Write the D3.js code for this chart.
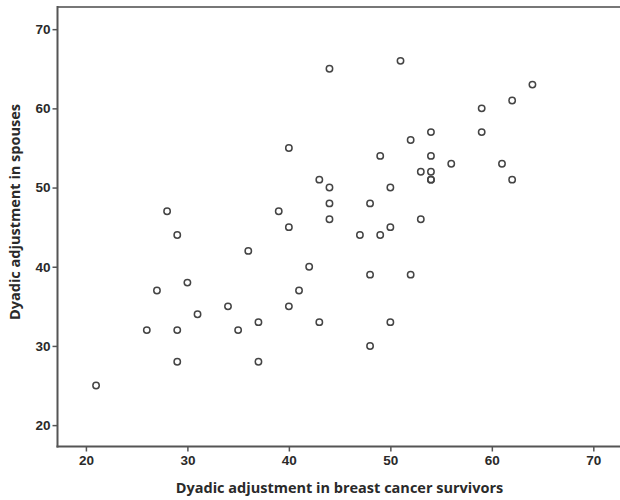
<!DOCTYPE html>
<html>
<head>
<meta charset="utf-8">
<script src="https://cdn.jsdelivr.net/npm/d3@7"></script>
<style>
  html, body { margin: 0; padding: 0; background: #fff; }
  svg { display: block; }
  .tick text { font-family: "Liberation Sans", Arial, sans-serif; font-weight: bold; fill: #2a2a2a; }
  .title { font-family: "Open Sans", "Noto Sans", sans-serif; font-weight: bold; fill: #2a2a2a; }
</style>
</head>
<body>
<svg id="chart" width="620" height="500"></svg>
<script>
const survivors = [28,29,36,40,43,39,40,44,51,64,62,59,59,54,52,54,49,56,61,53,54,54,54,62,44,50,44,48,44,53,47,49,50,42,41,40,43,37,37,35,34,31,30,27,26,29,29,21,48,52,50,48];
const spouses   = [47,44,42,55,51,47,45,65,66,63,61,60,57,57,56,54,54,53,53,52,52,51,51,51,50,50,48,48,46,46,44,44,45,40,37,35,33,33,28,32,35,34,38,37,32,32,28,25,39,39,33,30];
const xTicks = [20, 30, 40, 50, 60, 70];
const yTicks = [20, 30, 40, 50, 60, 70];
const xTitle = "Dyadic adjustment in breast cancer survivors";
const yTitle = "Dyadic adjustment in spouses";

(function () {
const svg = d3.select("#chart");
const mLeft = 57.5, mTop = 7, mBottom = 446.5, mRight = 640;

const x = d3.scaleLinear().domain([17.2, 74.6]).range([mLeft, mRight]);
const y = d3.scaleLinear().domain([17.3, 72.8]).range([mBottom, mTop]);

// frame (top border; right side is outside the picture)
svg.append("line")
  .attr("x1", mLeft).attr("x2", mRight).attr("y1", mTop).attr("y2", mTop)
  .attr("stroke", "#777").attr("stroke-width", 2);

const xAxis = svg.append("g")
  .attr("transform", `translate(0,${mBottom})`)
  .call(d3.axisBottom(x).tickValues(xTicks).tickSize(5).tickPadding(4).tickSizeOuter(0));
const yAxis = svg.append("g")
  .attr("transform", `translate(${mLeft},0)`)
  .call(d3.axisLeft(y).tickValues(yTicks).tickSize(5).tickPadding(2).tickSizeOuter(0));

[xAxis, yAxis].forEach(g => {
  g.select(".domain").attr("stroke", "#555").attr("stroke-width", 2);
  g.selectAll(".tick line").attr("stroke", "#555").attr("stroke-width", 1.5);
  g.selectAll(".tick text").attr("font-size", 13.5);
});
xAxis.select(".domain").attr("d", `M${mLeft - 1},0H${mRight}`);
yAxis.select(".domain").attr("d", `M0,${mTop - 1}V${mBottom + 1}`);

svg.append("g").selectAll("circle")
  .data(survivors.map((v, i) => [v, spouses[i]]))
  .join("circle")
  .attr("cx", d => x(d[0]))
  .attr("cy", d => y(d[1]))
  .attr("r", 3.2)
  .attr("fill", "none")
  .attr("stroke", "#444")
  .attr("stroke-width", 1.5);

svg.append("text").attr("class", "title")
  .attr("x", 339.5).attr("y", 493)
  .attr("text-anchor", "middle")
  .attr("font-size", 14.5)
  .text(xTitle);

svg.append("text").attr("class", "title")
  .attr("transform", "translate(20,212) rotate(-90)")
  .attr("text-anchor", "middle")
  .attr("font-size", 14.5)
  .text(yTitle);
})();
</script>
</body>
</html>
